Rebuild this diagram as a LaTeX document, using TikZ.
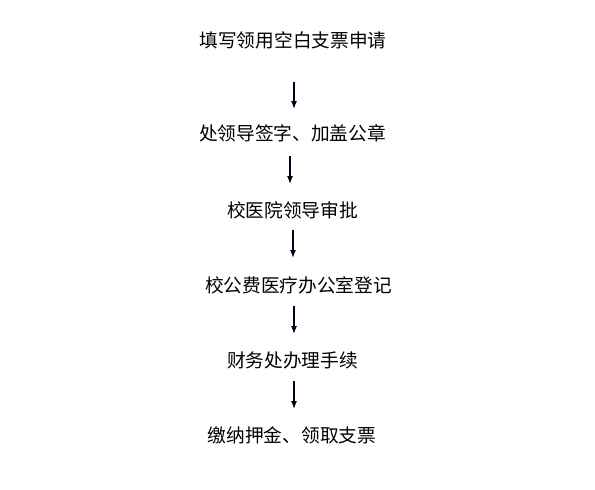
\documentclass[tikz,border=0pt]{standalone}
\usepackage{fontspec}
\newfontfamily\cjk{Noto Sans CJK SC}
\usetikzlibrary{arrows.meta}
\begin{document}
\begin{tikzpicture}[x=1pt,y=-1pt,
  stepnode/.style={inner sep=0pt,font=\cjk\fontsize{18.7}{20}\selectfont,text=black},
  flowarrow/.style={draw=black!90!blue,line width=1.1pt,-{Latex[length=8pt,width=6pt]}}]
\useasboundingbox[fill=white] (0,0) rectangle (595,490);
\node[stepnode] (n1) at (293,40) {填写领用空白支票申请};
\node[stepnode] (n2) at (292.5,133) {处领导签字、加盖公章};
\node[stepnode] (n3) at (292.5,210) {校医院领导审批};
\node[stepnode] (n4) at (298.5,285) {校公费医疗办公室登记};
\node[stepnode] (n5) at (292.5,360) {财务处办理手续};
\node[stepnode] (n6) at (292,435) {缴纳押金、领取支票};
\coordinate (a1s) at (294,82);  \coordinate (a1e) at (294,109);
\coordinate (a2s) at (290,156); \coordinate (a2e) at (290,184);
\coordinate (a3s) at (293,230); \coordinate (a3e) at (293,258);
\coordinate (a4s) at (294,306); \coordinate (a4e) at (294,334);
\coordinate (a5s) at (294,381); \coordinate (a5e) at (294,409);
\draw[flowarrow] (a1s) -- (a1e);
\draw[flowarrow] (a2s) -- (a2e);
\draw[flowarrow] (a3s) -- (a3e);
\draw[flowarrow] (a4s) -- (a4e);
\draw[flowarrow] (a5s) -- (a5e);
\end{tikzpicture}
\end{document}
